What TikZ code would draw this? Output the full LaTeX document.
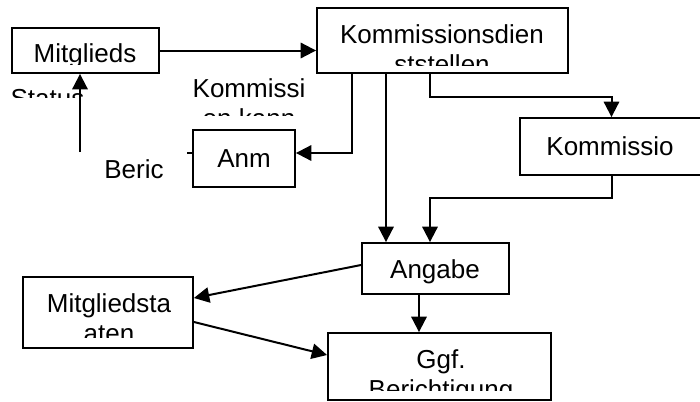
\documentclass[tikz,border=0pt]{standalone}
\usepackage{fontspec}
\setmainfont{Liberation Sans}
\usetikzlibrary{arrows.meta,fit}

\tikzset{
  box/.style={draw, line width=1.4pt, inner sep=0pt},
  txt/.style={inner sep=0pt, anchor=base, align=center},
  arr/.style={-{Triangle[length=11.5pt,width=11.5pt]}, line width=1.5pt},
}

\begin{document}
\begin{tikzpicture}[x=0.75pt, y=-0.75pt, font=\fontsize{19.5}{22.5}\selectfont]
    \useasboundingbox (0,0) rectangle (700,401);

    % Boxes
    \node[box, fit={(12,28) (159,73)}] (mitglieds) {};
    \node[box, fit={(317,8) (568,73)}] (komm) {};
    \node[box, fit={(520,118) (703,175)}] (kommissio) {};
    \node[box, fit={(193,130) (295,187)}] (anm) {};
    \node[box, fit={(362,243) (509,294)}] (angabe) {};
    \node[box, fit={(23,277) (193,348)}] (staaten) {};
    \node[box, fit={(328,333) (551,400)}] (ggf) {};

    % Texts, cut off at the bottom as in the original
    \begin{scope}
        \clip (12,28) rectangle (159,64);
        \node[txt] (mitgliedstxt) at (85,62.5) {Mitglieds};
    \end{scope}
    \begin{scope}
        \clip (317,8) rectangle (568,65);
        \node[txt] (kommtxt) at (442,73) {Kommissionsdien\\ststellen};
    \end{scope}
    \node[txt] (kommissiotxt) at (610,155) {Kommissio};
    \node[txt] (anmtxt) at (244,167) {Anm};
    \node[txt] (angabetxt) at (435,278) {Angabe};
    \begin{scope}
        \clip (23,277) rectangle (193,337);
        \node[txt] (staatentxt) at (109,342) {Mitgliedsta\\aten};
    \end{scope}
    \begin{scope}
        \clip (328,333) rectangle (551,390);
        \node[txt] (ggftxt) at (441,398) {Ggf.\\Berichtigung};
    \end{scope}

    % Free labels
    \begin{scope}
        \clip (0,80) rectangle (120,97);
        \node[txt] (status) at (47.5,107) {Status};
    \end{scope}
    \begin{scope}
        \clip (180,75) rectangle (320,115);
        \node[txt] (kommissi) at (249,127) {Kommissi\\on kann};
    \end{scope}
    \node[txt] (beric) at (134,178) {Beric};

    % Connectors
    \draw[arr] (mitglieds.east) -- (mitglieds.east -| komm.west);
    \coordinate (statusfoot) at (80,152);
    \draw[arr] (statusfoot) -- (statusfoot |- mitglieds.south);
    \draw[arr] (352,0 |- komm.south) |- (anm.east |- 0,153);
    \draw[line width=1.4pt] (anm.west |- 0,153) -- ++(-5,0);
    \draw[arr] (386,0 |- komm.south) -- (386,0 |- angabe.north);
    \draw[arr] (430,0 |- komm.south) |- (kommissio.north |- 0,97) -- (kommissio.north);
    \draw[arr] (kommissio.south) |- (430,198) -- (430,0 |- angabe.north);
    \draw[arr] (angabe.west |- 0,265) -- (staaten.east |- 0,298);
    \draw[arr] (staaten.east |- 0,322) -- (ggf.west |- 0,355);
    \draw[arr] (419,0 |- angabe.south) -- (419,0 |- ggf.north);
\end{tikzpicture}
\end{document}
